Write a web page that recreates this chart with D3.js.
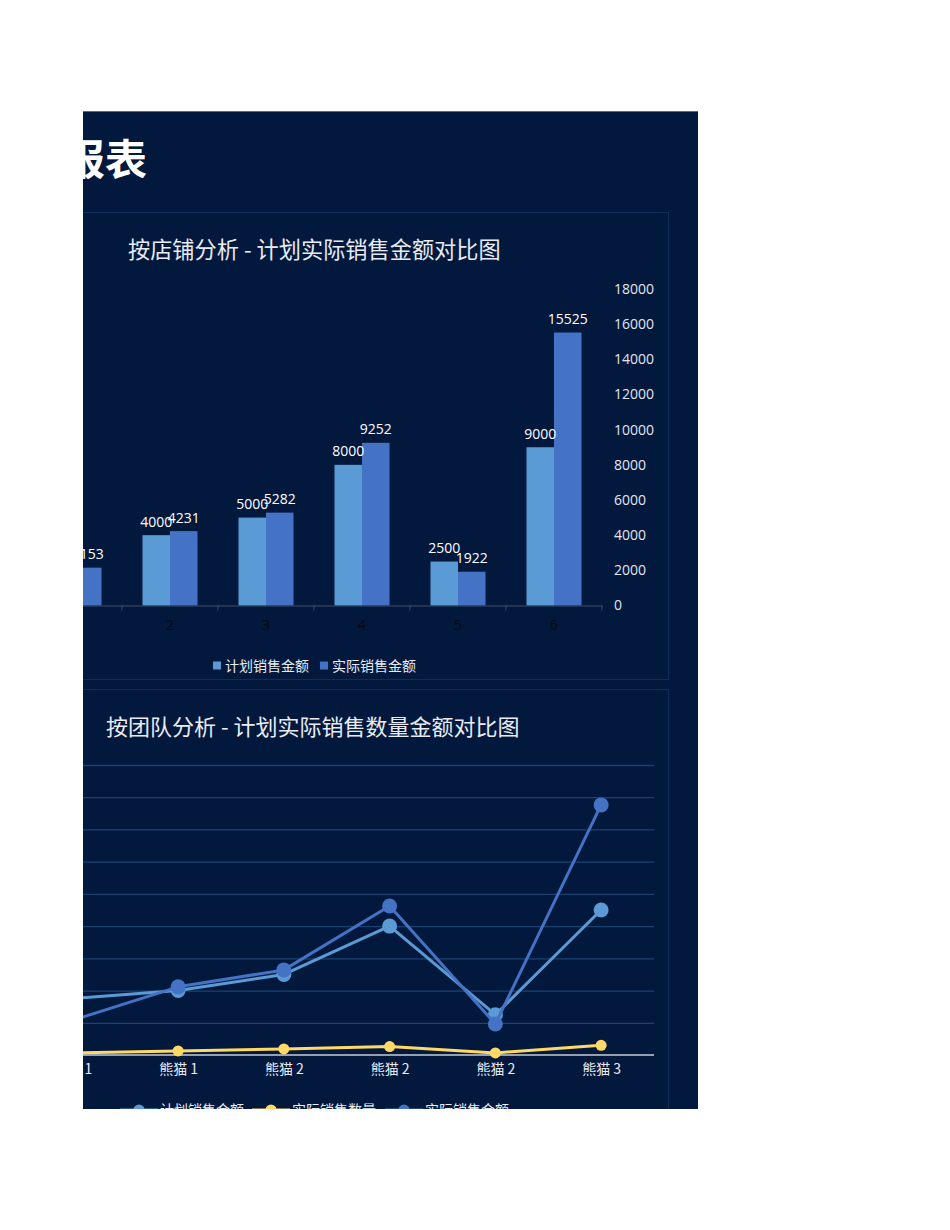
<!DOCTYPE html>
<html><head><meta charset="utf-8">
<script src="https://cdn.jsdelivr.net/npm/d3@7"></script>
<style>
html,body{margin:0;padding:0;background:#ffffff;}
svg{display:block;}
</style></head>
<body>
<svg id="c" width="950" height="1230"></svg>
<script>
// ---- data ----
const reportTitle = "报表";
const chart1Title = "按店铺分析 - 计划实际销售金额对比图";
const chart2Title = "按团队分析 - 计划实际销售数量金额对比图";
const storeCategories = ["1", "2", "3", "4", "5", "6"];
const planAmount = [3500, 4000, 5000, 8000, 2500, 9000];
const actualAmount = [2153, 4231, 5282, 9252, 1922, 15525];
const teamCategories = ["熊猫 1", "熊猫 1", "熊猫 2", "熊猫 2", "熊猫 2", "熊猫 3"];
const actualQuantity = [120, 250, 380, 520, 130, 600];
const seriesNames1 = ["计划销售金额", "实际销售金额"];
const seriesNames2 = ["计划销售金额", "实际销售数量", "实际销售金额"];
const amountTicks = [0, 2000, 4000, 6000, 8000, 10000, 12000, 14000, 16000, 18000];

const C_PLAN = "#5b9bd5", C_ACT = "#4472c4", C_QTY = "#ffd966";
const BG = "#03183d", BORDER = "#0e2f5c";
const CJK = "'Noto Sans CJK SC','Noto Sans',sans-serif";
const NUM = "'Open Sans','Noto Sans',sans-serif";

const svg = d3.select("#c");
const defs = svg.append("defs");
defs.append("clipPath").attr("id", "panelClip")
  .append("rect").attr("x", 83).attr("y", 111).attr("width", 615).attr("height", 998);

const g = svg.append("g").attr("clip-path", "url(#panelClip)");
g.append("rect").attr("x", 0).attr("y", 111).attr("width", 698).attr("height", 1000).attr("fill", BG);
g.append("line").attr("x1", 0).attr("x2", 698).attr("y1", 111.5).attr("y2", 111.5).attr("stroke", "#5a6a85").attr("stroke-width", 1);

// main title
g.append("text").attr("x", 147).attr("y", 175).attr("text-anchor", "end")
  .attr("font-family", CJK).attr("font-weight", 700).attr("font-size", 42)
  .attr("fill", "#ffffff").text(reportTitle);

// ---------- chart 1 ----------
g.append("rect").attr("x", 20.5).attr("y", 212.5).attr("width", 648).attr("height", 467)
  .attr("fill", BG).attr("stroke", BORDER).attr("stroke-width", 1);
g.append("text").attr("x", 128).attr("y", 258).attr("font-family", CJK).attr("font-size", 22.2)
  .attr("fill", "#e8ecf2").text(chart1Title);

const x0 = d3.scaleBand().domain(storeCategories).range([26, 602])
  .paddingInner(41/96).paddingOuter(41/192);
const x1 = d3.scaleBand().domain(seriesNames1).range([0, x0.bandwidth()]);
const y1 = d3.scaleLinear().domain([0, 18000]).range([605.5, 289]);

const rows1 = storeCategories.map((c, i) => ({cat: c, vals: [planAmount[i], actualAmount[i]]}));
const grp = g.append("g").selectAll("g").data(rows1).join("g")
  .attr("transform", d => `translate(${x0(d.cat)},0)`);
grp.selectAll("rect").data(d => d.vals.map((v, k) => ({k, v}))).join("rect")
  .attr("x", d => x1(seriesNames1[d.k]))
  .attr("width", x1.bandwidth())
  .attr("y", d => y1(d.v))
  .attr("height", d => y1(0) - y1(d.v))
  .attr("fill", d => d.k === 0 ? C_PLAN : C_ACT);
grp.selectAll("text").data(d => d.vals.map((v, k) => ({k, v}))).join("text")
  .attr("x", d => x1(seriesNames1[d.k]) + x1.bandwidth() / 2)
  .attr("y", d => y1(d.v) - 8.5)
  .attr("text-anchor", "middle").attr("font-family", NUM).attr("font-size", 14)
  .attr("fill", "#ffffff").text(d => d.v);

// x axis (bottom)
const xAxis1 = g.append("g").attr("transform", `translate(0,${y1(0)})`)
  .call(d3.axisBottom(x0).tickSize(0).tickPadding(14));
xAxis1.select(".domain").attr("stroke", "#3e4e69");
xAxis1.selectAll("text").attr("font-family", NUM).attr("font-size", 14.5).attr("fill", "#0a0a0a");
// category boundary ticks
g.append("g").selectAll("line").data(d3.range(storeCategories.length + 1)).join("line")
  .attr("x1", i => 26 + i * x0.step()).attr("x2", i => 26 + i * x0.step())
  .attr("y1", y1(0)).attr("y2", y1(0) + 5).attr("stroke", "#3e4e69");
// y axis on right
const yAxis1 = g.append("g").attr("transform", `translate(602,0)`)
  .call(d3.axisRight(y1).tickValues(amountTicks).tickSize(0).tickPadding(12).tickFormat(d3.format("d")));
yAxis1.select(".domain").remove();
yAxis1.selectAll("text").attr("font-family", NUM).attr("font-size", 14).attr("fill", "#e2e6ee");

// legend chart 1
const leg1 = g.append("g").attr("transform", "translate(213,666)");
const leg1Pos = [0, 107];
seriesNames1.forEach((n, i) => {
  leg1.append("rect").attr("x", leg1Pos[i]).attr("y", -4.5).attr("width", 8).attr("height", 8)
    .attr("fill", i === 0 ? C_PLAN : C_ACT);
  leg1.append("text").attr("x", leg1Pos[i] + 12).attr("y", 0).attr("dy", "0.35em")
    .attr("font-family", CJK).attr("font-size", 14).attr("fill", "#e8ecf2").text(n);
});

// ---------- chart 2 ----------
g.append("rect").attr("x", 20.5).attr("y", 689.5).attr("width", 648).attr("height", 460)
  .attr("fill", BG).attr("stroke", BORDER).attr("stroke-width", 1);
g.append("text").attr("x", 106).attr("y", 735).attr("font-family", CJK).attr("font-size", 22)
  .attr("fill", "#e8ecf2").text(chart2Title);

const idx = d3.range(teamCategories.length);
const x2 = d3.scalePoint().domain(idx).range([19.5, 654]).padding(0.5);
const y2 = d3.scaleLinear().domain([0, 18000]).range([1055, 765]);

// gridlines
const grid = g.append("g").attr("transform", "translate(19.5,0)")
  .call(d3.axisLeft(y2).tickValues(amountTicks.slice(1)).tickSize(-634.5).tickFormat(""));
grid.select(".domain").remove();
grid.selectAll("line").attr("stroke", "#1d4270").attr("stroke-width", 1.3);

// x axis
const xAxis2 = g.append("g").attr("transform", `translate(0,${y2(0)})`)
  .call(d3.axisBottom(x2).tickSize(0).tickPadding(9).tickFormat(i => teamCategories[i]));
xAxis2.select(".domain").attr("stroke", "#c8ccd4").attr("stroke-width", 1.5)
  .attr("d", "M19.5,0H654");
xAxis2.selectAll("text").attr("font-family", CJK).attr("font-size", 14).attr("fill", "#e8ecf2");

const line = d3.line().x((d, i) => x2(i)).y(d => y2(d));
const series2 = [
  {name: seriesNames2[0], vals: planAmount, color: C_PLAN, r: 7.5},
  {name: seriesNames2[2], vals: actualAmount, color: C_ACT, r: 7.5},
  {name: seriesNames2[1], vals: actualQuantity, color: C_QTY, r: 5.5}
];
series2.forEach(s => {
  const sg = g.append("g");
  sg.append("path").datum(s.vals).attr("d", line).attr("fill", "none")
    .attr("stroke", s.color).attr("stroke-width", 3).attr("stroke-linejoin", "round");
  sg.selectAll("circle").data(s.vals).join("circle")
    .attr("cx", (d, i) => x2(i)).attr("cy", d => y2(d)).attr("r", s.r).attr("fill", s.color);
});

// legend chart 2
const leg2 = g.append("g").attr("transform", "translate(0,1110)");
const leg2Pos = [120, 252, 385];
const leg2Colors = [C_PLAN, C_QTY, C_ACT];
seriesNames2.forEach((n, i) => {
  leg2.append("line").attr("x1", leg2Pos[i]).attr("x2", leg2Pos[i] + 38).attr("y1", 0).attr("y2", 0)
    .attr("stroke", leg2Colors[i]).attr("stroke-width", 3);
  leg2.append("circle").attr("cx", leg2Pos[i] + 19).attr("cy", 0).attr("r", 5.5).attr("fill", leg2Colors[i]);
  leg2.append("text").attr("x", leg2Pos[i] + 40).attr("y", 0).attr("dy", "0.35em")
    .attr("font-family", CJK).attr("font-size", 14).attr("fill", "#e8ecf2").text(n);
});
</script>
</body></html>
